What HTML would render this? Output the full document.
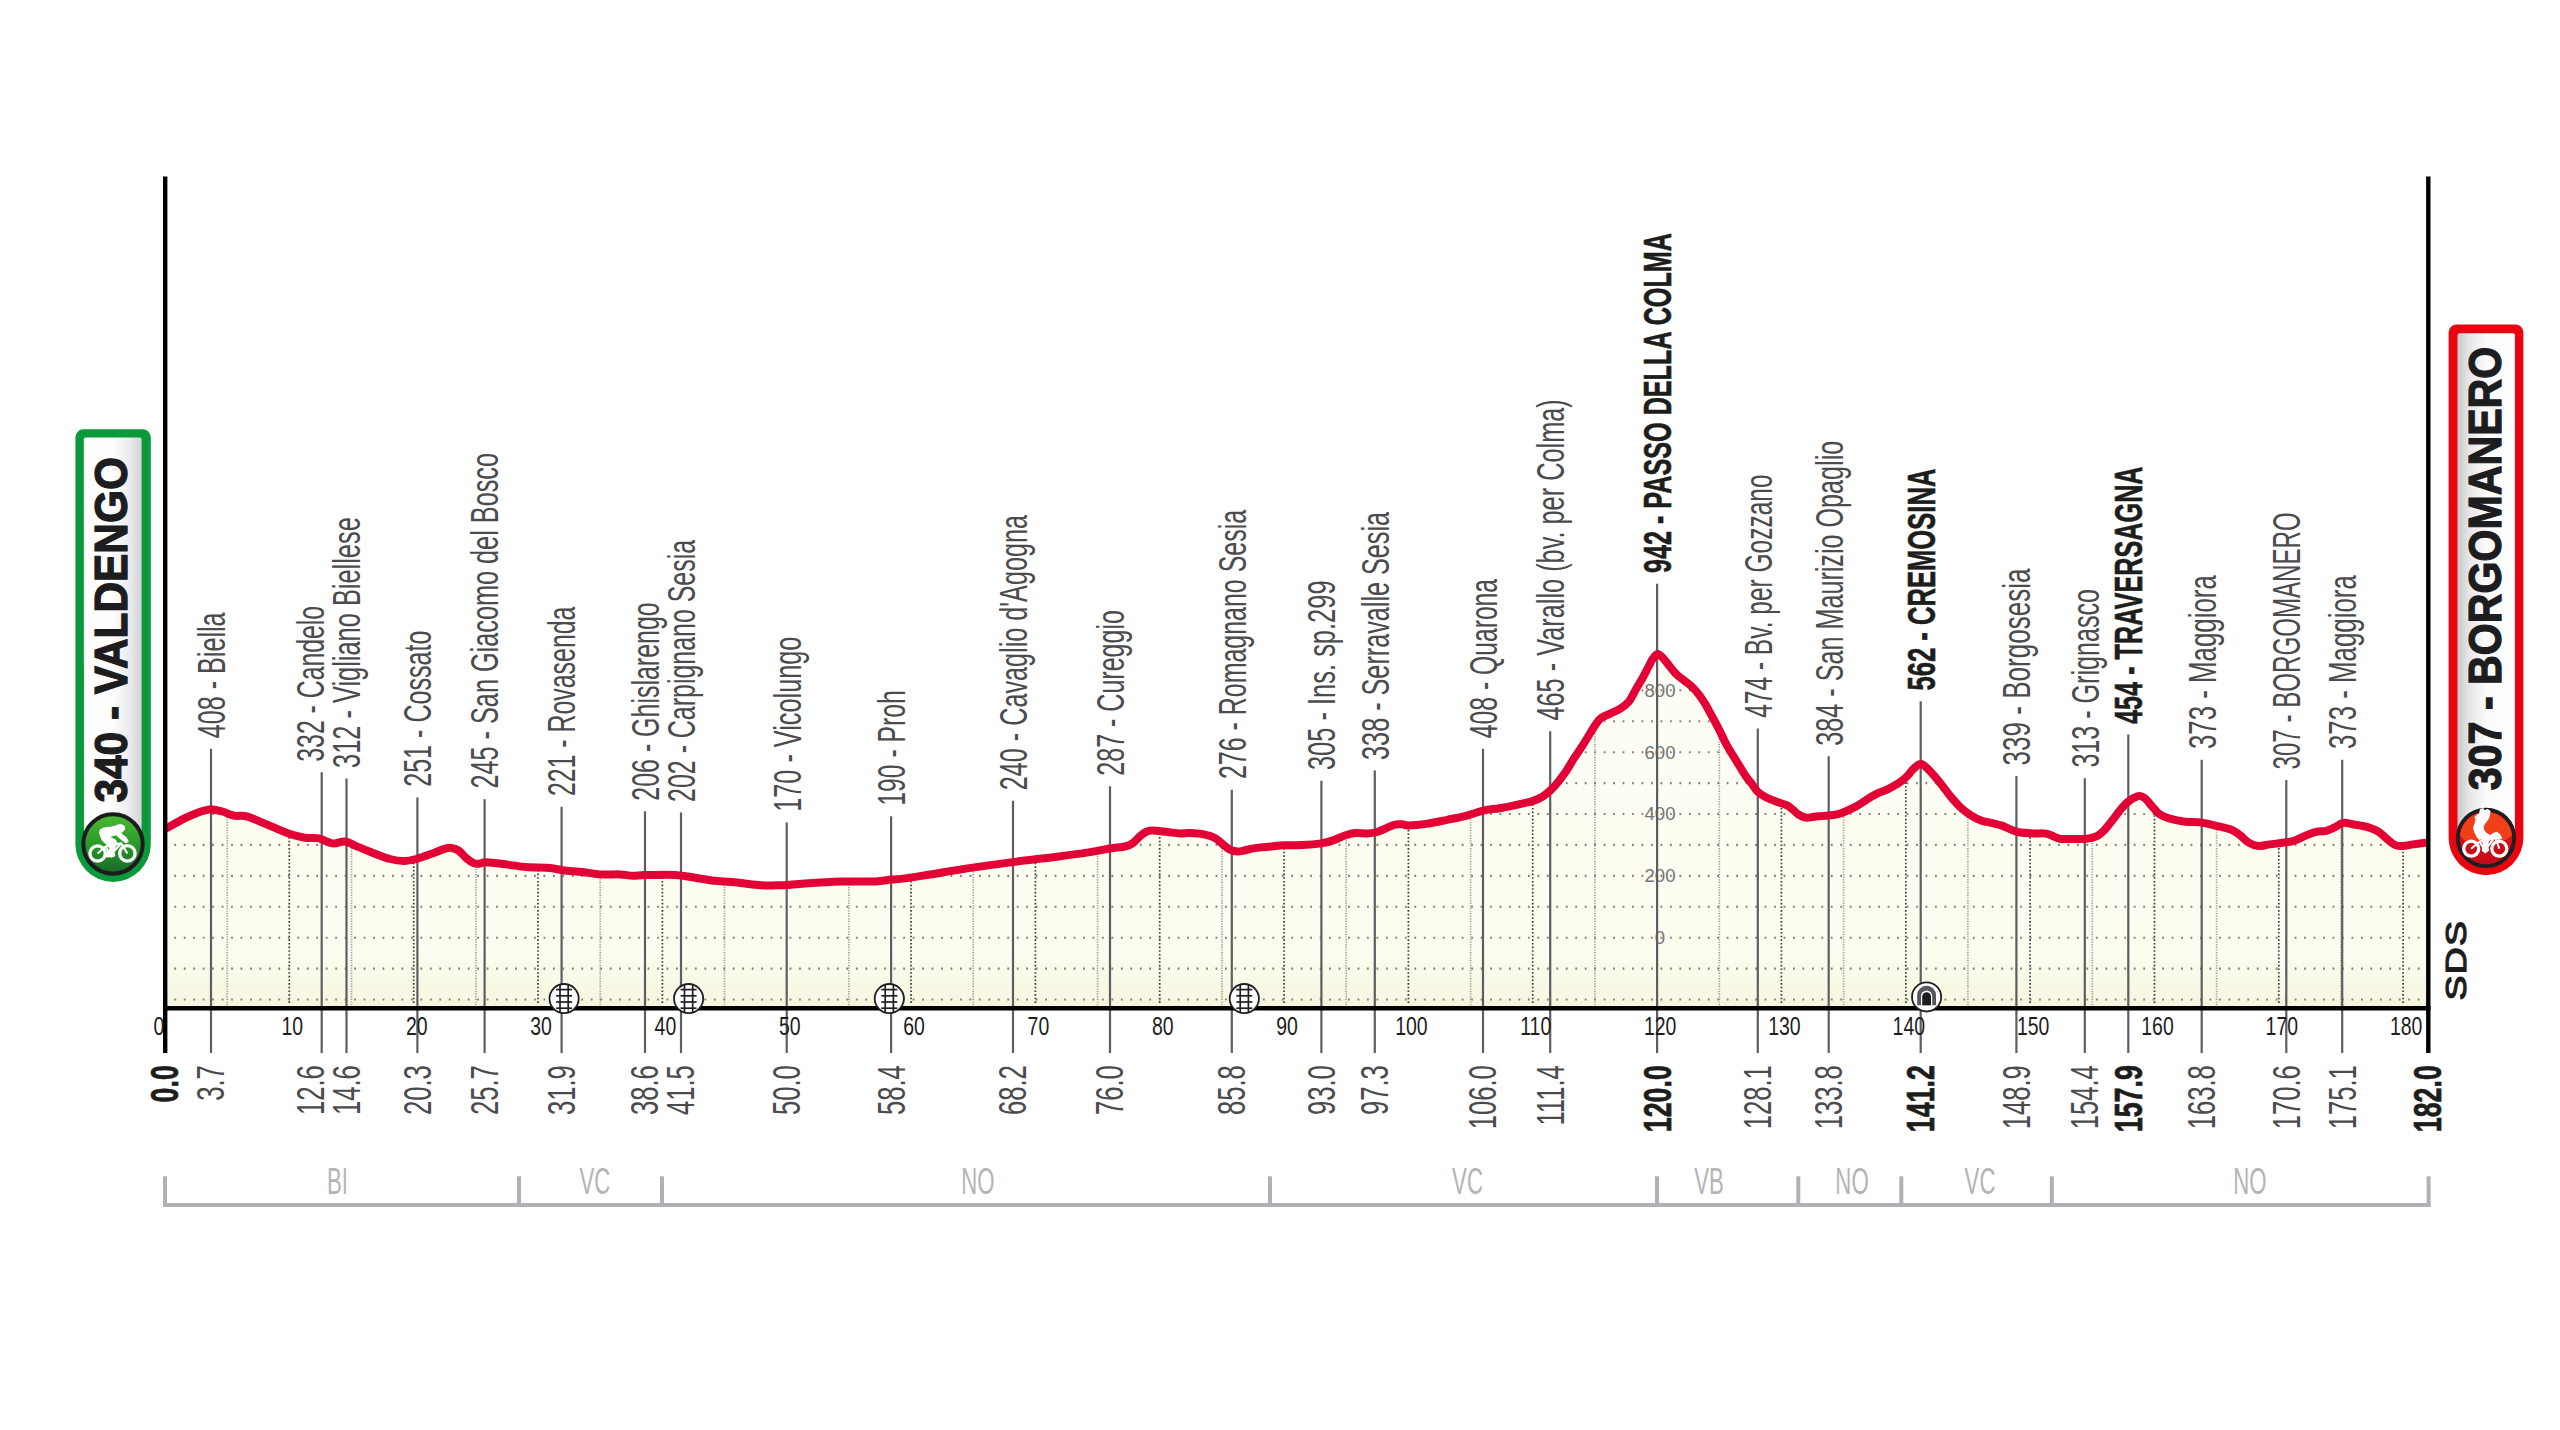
<!DOCTYPE html>
<html lang="it"><head><meta charset="utf-8"><title>Valdengo - Borgomanero</title>
<style>html,body{margin:0;padding:0;background:#fff;}svg{display:block;}text{font-family:"Liberation Sans",sans-serif;}</style></head><body>
<svg width="2560" height="1430" viewBox="0 0 2560 1430">
<defs>
<linearGradient id="gfill" x1="0" y1="0" x2="0" y2="1" gradientUnits="userSpaceOnUse"><stop offset="0" stop-color="#fdfdf3"/><stop offset="0.68" stop-color="#fcfcef"/><stop offset="0.7" stop-color="#f3f4d9"/><stop offset="1" stop-color="#f3f4d9"/></linearGradient>
<linearGradient id="garea" x1="0" y1="650" x2="0" y2="1008" gradientUnits="userSpaceOnUse"><stop offset="0" stop-color="#fdfdf5"/><stop offset="0.86" stop-color="#fcfcef"/><stop offset="1" stop-color="#f5f5de"/></linearGradient>
<linearGradient id="gpl" x1="83" y1="0" x2="142" y2="0" gradientUnits="userSpaceOnUse"><stop offset="0" stop-color="#ffffff"/><stop offset="0.5" stop-color="#fdfdfd"/><stop offset="0.8" stop-color="#ebebee"/><stop offset="1" stop-color="#d0d0d6"/></linearGradient>
<linearGradient id="gpr" x1="2457" y1="0" x2="2516" y2="0" gradientUnits="userSpaceOnUse"><stop offset="0" stop-color="#c4c5c9"/><stop offset="0.2" stop-color="#e6e6e9"/><stop offset="0.5" stop-color="#fbfbfc"/><stop offset="1" stop-color="#ffffff"/></linearGradient>
<linearGradient id="ggreen" x1="0" y1="0" x2="0" y2="1"><stop offset="0" stop-color="#4dbb33"/><stop offset="0.5" stop-color="#2a9a2c"/><stop offset="1" stop-color="#16692a"/></linearGradient>
<linearGradient id="gred" x1="0" y1="0" x2="0" y2="1"><stop offset="0" stop-color="#e2121a"/><stop offset="1" stop-color="#c40a1a"/></linearGradient>
<clipPath id="carea"><path d="M165.00,829.00 C168.33,827.18 179.58,820.81 185.00,818.10 C190.42,815.39 194.00,814.07 197.50,812.75 C201.00,811.43 203.50,810.76 206.00,810.20 C208.50,809.64 209.75,809.18 212.50,809.40 C215.25,809.62 218.96,810.47 222.50,811.50 C226.04,812.53 230.00,814.85 233.75,815.60 C237.50,816.35 241.46,815.37 245.00,816.00 C248.54,816.63 250.42,817.58 255.00,819.40 C259.58,821.22 266.67,824.47 272.50,826.90 C278.33,829.33 284.58,832.19 290.00,834.00 C295.42,835.81 300.21,837.02 305.00,837.75 C309.79,838.48 314.17,837.46 318.75,838.40 C323.33,839.34 328.12,842.88 332.50,843.40 C336.88,843.92 341.25,841.13 345.00,841.50 C348.75,841.87 350.42,843.73 355.00,845.60 C359.58,847.48 366.67,850.52 372.50,852.75 C378.33,854.98 384.79,857.62 390.00,859.00 C395.21,860.38 399.38,861.00 403.75,861.00 C408.12,861.00 411.46,860.25 416.25,859.00 C421.04,857.75 427.92,855.15 432.50,853.50 C437.08,851.85 440.62,850.03 443.75,849.10 C446.88,848.17 448.75,847.65 451.25,847.90 C453.75,848.15 456.25,848.90 458.75,850.60 C461.25,852.30 463.75,856.02 466.25,858.10 C468.75,860.18 471.46,862.18 473.75,863.10 C476.04,864.02 477.92,863.74 480.00,863.60 C482.08,863.46 481.67,862.08 486.25,862.25 C490.83,862.42 500.83,863.79 507.50,864.60 C514.17,865.41 519.17,866.53 526.25,867.10 C533.33,867.67 543.96,867.48 550.00,868.00 C556.04,868.52 557.08,869.57 562.50,870.25 C567.92,870.93 576.04,871.39 582.50,872.10 C588.96,872.81 595.00,874.12 601.25,874.50 C607.50,874.88 614.79,874.19 620.00,874.40 C625.21,874.61 628.33,875.63 632.50,875.75 C636.67,875.87 637.92,875.24 645.00,875.10 C652.08,874.96 666.67,874.46 675.00,874.90 C683.33,875.34 688.54,876.77 695.00,877.75 C701.46,878.73 707.50,880.02 713.75,880.75 C720.00,881.48 724.58,881.35 732.50,882.10 C740.42,882.85 753.96,884.72 761.25,885.25 C768.54,885.78 771.96,885.32 776.25,885.30 C780.54,885.27 782.21,885.42 787.00,885.10 C791.79,884.78 795.75,883.98 805.00,883.40 C814.25,882.82 830.83,881.93 842.50,881.60 C854.17,881.27 866.88,881.73 875.00,881.40 C883.12,881.07 886.25,880.10 891.25,879.60 C896.25,879.10 898.54,879.25 905.00,878.40 C911.46,877.55 919.58,876.17 930.00,874.50 C940.42,872.83 953.75,870.47 967.50,868.40 C981.25,866.33 997.92,864.00 1012.50,862.10 C1027.08,860.20 1042.08,858.67 1055.00,857.00 C1067.92,855.33 1080.83,853.52 1090.00,852.10 C1099.17,850.68 1104.17,849.43 1110.00,848.50 C1115.83,847.57 1121.25,847.35 1125.00,846.50 C1128.75,845.65 1130.00,845.11 1132.50,843.40 C1135.00,841.69 1137.71,838.19 1140.00,836.25 C1142.29,834.31 1144.17,832.69 1146.25,831.75 C1148.33,830.81 1148.96,830.54 1152.50,830.60 C1156.04,830.66 1162.92,831.63 1167.50,832.10 C1172.08,832.57 1176.25,833.23 1180.00,833.40 C1183.75,833.57 1185.83,832.90 1190.00,833.10 C1194.17,833.30 1200.83,833.77 1205.00,834.60 C1209.17,835.43 1212.08,836.53 1215.00,838.10 C1217.92,839.67 1220.00,842.08 1222.50,844.00 C1225.00,845.92 1227.50,848.35 1230.00,849.60 C1232.50,850.85 1235.00,851.39 1237.50,851.50 C1240.00,851.61 1242.08,850.82 1245.00,850.25 C1247.92,849.68 1250.62,848.73 1255.00,848.10 C1259.38,847.48 1266.46,846.98 1271.25,846.50 C1276.04,846.02 1278.54,845.48 1283.75,845.25 C1288.96,845.02 1296.25,845.41 1302.50,845.10 C1308.75,844.79 1316.25,844.15 1321.25,843.40 C1326.25,842.65 1328.54,841.92 1332.50,840.60 C1336.46,839.28 1341.25,836.75 1345.00,835.50 C1348.75,834.25 1351.25,833.45 1355.00,833.10 C1358.75,832.75 1363.96,833.54 1367.50,833.40 C1371.04,833.26 1373.33,833.02 1376.25,832.25 C1379.17,831.48 1381.88,830.02 1385.00,828.75 C1388.12,827.48 1392.17,825.34 1395.00,824.60 C1397.83,823.86 1399.77,824.15 1402.00,824.30 C1404.23,824.45 1404.37,825.57 1408.40,825.50 C1412.43,825.43 1419.73,824.85 1426.20,823.90 C1432.67,822.95 1440.73,821.10 1447.20,819.80 C1453.67,818.50 1458.97,817.63 1465.00,816.10 C1471.03,814.57 1477.62,811.92 1483.40,810.60 C1489.18,809.28 1494.37,809.12 1499.70,808.20 C1505.03,807.28 1509.82,806.32 1515.40,805.10 C1520.98,803.88 1528.65,802.33 1533.20,800.90 C1537.75,799.47 1539.82,798.28 1542.70,796.50 C1545.58,794.72 1548.07,792.45 1550.50,790.20 C1552.93,787.95 1554.77,786.07 1557.30,783.00 C1559.83,779.93 1562.90,775.93 1565.70,771.80 C1568.50,767.67 1571.30,762.57 1574.10,758.20 C1576.90,753.83 1579.70,749.97 1582.50,745.60 C1585.30,741.23 1588.62,735.67 1590.90,732.00 C1593.18,728.33 1594.45,725.97 1596.20,723.60 C1597.95,721.23 1599.13,719.43 1601.40,717.80 C1603.67,716.17 1606.65,715.33 1609.80,713.80 C1612.95,712.27 1617.15,710.60 1620.30,708.60 C1623.45,706.60 1626.05,705.12 1628.70,701.80 C1631.35,698.48 1633.82,692.80 1636.20,688.70 C1638.58,684.60 1640.95,680.87 1643.00,677.20 C1645.05,673.53 1646.93,669.67 1648.50,666.70 C1650.07,663.73 1650.87,661.53 1652.40,659.40 C1653.93,657.27 1655.73,653.90 1657.70,653.90 C1659.67,653.90 1662.15,657.27 1664.20,659.40 C1666.25,661.53 1667.98,664.25 1670.00,666.70 C1672.02,669.15 1673.98,671.82 1676.30,674.10 C1678.62,676.38 1681.40,678.40 1683.90,680.40 C1686.40,682.40 1688.82,683.75 1691.30,686.10 C1693.78,688.45 1696.53,691.62 1698.80,694.50 C1701.07,697.38 1702.92,700.17 1704.90,703.40 C1706.88,706.63 1708.78,710.40 1710.70,713.90 C1712.62,717.40 1714.57,720.90 1716.40,724.40 C1718.23,727.90 1719.95,731.40 1721.70,734.90 C1723.45,738.40 1724.98,741.90 1726.90,745.40 C1728.82,748.90 1731.07,752.40 1733.20,755.90 C1735.33,759.40 1737.52,762.90 1739.70,766.40 C1741.88,769.90 1744.33,774.07 1746.30,776.90 C1748.27,779.73 1749.58,780.90 1751.50,783.40 C1753.42,785.90 1755.27,789.52 1757.80,791.90 C1760.33,794.28 1763.47,796.03 1766.70,797.70 C1769.93,799.37 1773.88,800.65 1777.20,801.90 C1780.52,803.15 1783.98,803.90 1786.60,805.20 C1789.22,806.50 1790.80,808.07 1792.90,809.70 C1795.00,811.33 1796.92,813.65 1799.20,815.00 C1801.48,816.35 1803.80,817.55 1806.60,817.80 C1809.40,818.05 1812.33,816.88 1816.00,816.50 C1819.67,816.12 1825.10,815.85 1828.60,815.50 C1832.10,815.15 1834.20,815.07 1837.00,814.40 C1839.80,813.73 1842.25,812.80 1845.40,811.50 C1848.55,810.20 1852.40,808.55 1855.90,806.60 C1859.40,804.65 1862.90,801.95 1866.40,799.80 C1869.90,797.65 1873.40,795.45 1876.90,793.70 C1880.40,791.95 1883.92,790.97 1887.40,789.30 C1890.88,787.63 1894.67,785.72 1897.80,783.70 C1900.93,781.68 1903.57,779.68 1906.20,777.20 C1908.83,774.72 1911.15,770.98 1913.60,768.80 C1916.05,766.62 1918.28,763.83 1920.90,764.10 C1923.52,764.37 1926.15,767.33 1929.30,770.40 C1932.45,773.47 1936.30,778.22 1939.80,782.50 C1943.30,786.78 1946.80,791.92 1950.30,796.10 C1953.80,800.28 1957.43,804.43 1960.80,807.60 C1964.17,810.77 1967.13,812.95 1970.50,815.10 C1973.87,817.25 1977.50,819.20 1981.00,820.50 C1984.50,821.80 1988.00,822.05 1991.50,822.90 C1995.00,823.75 1998.85,824.52 2002.00,825.60 C2005.15,826.68 2007.62,828.30 2010.40,829.40 C2013.18,830.50 2014.87,831.53 2018.70,832.20 C2022.53,832.87 2028.85,833.17 2033.40,833.40 C2037.95,833.63 2042.50,833.03 2046.00,833.60 C2049.50,834.17 2051.95,835.92 2054.40,836.80 C2056.85,837.68 2057.20,838.53 2060.70,838.90 C2064.20,839.27 2071.20,839.00 2075.40,839.00 C2079.60,839.00 2082.40,839.35 2085.90,838.90 C2089.40,838.45 2093.43,837.65 2096.40,836.30 C2099.37,834.95 2101.25,833.20 2103.70,830.80 C2106.15,828.40 2108.48,825.18 2111.10,821.90 C2113.72,818.62 2116.62,814.42 2119.40,811.10 C2122.18,807.78 2124.65,804.48 2127.80,802.00 C2130.95,799.52 2135.50,796.87 2138.30,796.20 C2141.10,795.53 2142.32,796.33 2144.60,798.00 C2146.88,799.67 2149.55,803.53 2152.00,806.20 C2154.45,808.87 2156.33,811.92 2159.30,814.00 C2162.27,816.08 2165.43,817.40 2169.80,818.70 C2174.17,820.00 2180.38,821.18 2185.50,821.80 C2190.62,822.42 2195.38,821.73 2200.50,822.40 C2205.62,823.07 2210.95,824.53 2216.20,825.80 C2221.45,827.07 2227.97,828.38 2232.00,830.00 C2236.03,831.62 2237.62,833.40 2240.40,835.50 C2243.18,837.60 2245.73,840.85 2248.70,842.60 C2251.67,844.35 2254.70,845.70 2258.20,846.00 C2261.70,846.30 2265.07,845.02 2269.70,844.40 C2274.33,843.78 2281.80,842.95 2286.00,842.30 C2290.20,841.65 2291.67,841.60 2294.90,840.50 C2298.13,839.40 2301.90,837.13 2305.40,835.70 C2308.90,834.27 2312.40,832.72 2315.90,831.90 C2319.40,831.08 2323.25,831.57 2326.40,830.80 C2329.55,830.03 2332.00,828.62 2334.80,827.30 C2337.60,825.98 2340.07,823.37 2343.20,822.90 C2346.33,822.43 2349.42,823.77 2353.60,824.50 C2357.78,825.23 2364.10,826.07 2368.30,827.30 C2372.50,828.53 2375.65,829.92 2378.80,831.90 C2381.95,833.88 2384.40,836.98 2387.20,839.20 C2390.00,841.42 2392.98,844.07 2395.60,845.20 C2398.22,846.33 2399.93,846.13 2402.90,846.00 C2405.87,845.87 2409.22,845.00 2413.40,844.40 C2417.58,843.80 2425.57,842.73 2428.00,842.40 L2428,1008.3 L165,1008.3 Z"/></clipPath>
</defs>
<rect width="2560" height="1430" fill="#ffffff"/>
<path d="M165.00,829.00 C168.33,827.18 179.58,820.81 185.00,818.10 C190.42,815.39 194.00,814.07 197.50,812.75 C201.00,811.43 203.50,810.76 206.00,810.20 C208.50,809.64 209.75,809.18 212.50,809.40 C215.25,809.62 218.96,810.47 222.50,811.50 C226.04,812.53 230.00,814.85 233.75,815.60 C237.50,816.35 241.46,815.37 245.00,816.00 C248.54,816.63 250.42,817.58 255.00,819.40 C259.58,821.22 266.67,824.47 272.50,826.90 C278.33,829.33 284.58,832.19 290.00,834.00 C295.42,835.81 300.21,837.02 305.00,837.75 C309.79,838.48 314.17,837.46 318.75,838.40 C323.33,839.34 328.12,842.88 332.50,843.40 C336.88,843.92 341.25,841.13 345.00,841.50 C348.75,841.87 350.42,843.73 355.00,845.60 C359.58,847.48 366.67,850.52 372.50,852.75 C378.33,854.98 384.79,857.62 390.00,859.00 C395.21,860.38 399.38,861.00 403.75,861.00 C408.12,861.00 411.46,860.25 416.25,859.00 C421.04,857.75 427.92,855.15 432.50,853.50 C437.08,851.85 440.62,850.03 443.75,849.10 C446.88,848.17 448.75,847.65 451.25,847.90 C453.75,848.15 456.25,848.90 458.75,850.60 C461.25,852.30 463.75,856.02 466.25,858.10 C468.75,860.18 471.46,862.18 473.75,863.10 C476.04,864.02 477.92,863.74 480.00,863.60 C482.08,863.46 481.67,862.08 486.25,862.25 C490.83,862.42 500.83,863.79 507.50,864.60 C514.17,865.41 519.17,866.53 526.25,867.10 C533.33,867.67 543.96,867.48 550.00,868.00 C556.04,868.52 557.08,869.57 562.50,870.25 C567.92,870.93 576.04,871.39 582.50,872.10 C588.96,872.81 595.00,874.12 601.25,874.50 C607.50,874.88 614.79,874.19 620.00,874.40 C625.21,874.61 628.33,875.63 632.50,875.75 C636.67,875.87 637.92,875.24 645.00,875.10 C652.08,874.96 666.67,874.46 675.00,874.90 C683.33,875.34 688.54,876.77 695.00,877.75 C701.46,878.73 707.50,880.02 713.75,880.75 C720.00,881.48 724.58,881.35 732.50,882.10 C740.42,882.85 753.96,884.72 761.25,885.25 C768.54,885.78 771.96,885.32 776.25,885.30 C780.54,885.27 782.21,885.42 787.00,885.10 C791.79,884.78 795.75,883.98 805.00,883.40 C814.25,882.82 830.83,881.93 842.50,881.60 C854.17,881.27 866.88,881.73 875.00,881.40 C883.12,881.07 886.25,880.10 891.25,879.60 C896.25,879.10 898.54,879.25 905.00,878.40 C911.46,877.55 919.58,876.17 930.00,874.50 C940.42,872.83 953.75,870.47 967.50,868.40 C981.25,866.33 997.92,864.00 1012.50,862.10 C1027.08,860.20 1042.08,858.67 1055.00,857.00 C1067.92,855.33 1080.83,853.52 1090.00,852.10 C1099.17,850.68 1104.17,849.43 1110.00,848.50 C1115.83,847.57 1121.25,847.35 1125.00,846.50 C1128.75,845.65 1130.00,845.11 1132.50,843.40 C1135.00,841.69 1137.71,838.19 1140.00,836.25 C1142.29,834.31 1144.17,832.69 1146.25,831.75 C1148.33,830.81 1148.96,830.54 1152.50,830.60 C1156.04,830.66 1162.92,831.63 1167.50,832.10 C1172.08,832.57 1176.25,833.23 1180.00,833.40 C1183.75,833.57 1185.83,832.90 1190.00,833.10 C1194.17,833.30 1200.83,833.77 1205.00,834.60 C1209.17,835.43 1212.08,836.53 1215.00,838.10 C1217.92,839.67 1220.00,842.08 1222.50,844.00 C1225.00,845.92 1227.50,848.35 1230.00,849.60 C1232.50,850.85 1235.00,851.39 1237.50,851.50 C1240.00,851.61 1242.08,850.82 1245.00,850.25 C1247.92,849.68 1250.62,848.73 1255.00,848.10 C1259.38,847.48 1266.46,846.98 1271.25,846.50 C1276.04,846.02 1278.54,845.48 1283.75,845.25 C1288.96,845.02 1296.25,845.41 1302.50,845.10 C1308.75,844.79 1316.25,844.15 1321.25,843.40 C1326.25,842.65 1328.54,841.92 1332.50,840.60 C1336.46,839.28 1341.25,836.75 1345.00,835.50 C1348.75,834.25 1351.25,833.45 1355.00,833.10 C1358.75,832.75 1363.96,833.54 1367.50,833.40 C1371.04,833.26 1373.33,833.02 1376.25,832.25 C1379.17,831.48 1381.88,830.02 1385.00,828.75 C1388.12,827.48 1392.17,825.34 1395.00,824.60 C1397.83,823.86 1399.77,824.15 1402.00,824.30 C1404.23,824.45 1404.37,825.57 1408.40,825.50 C1412.43,825.43 1419.73,824.85 1426.20,823.90 C1432.67,822.95 1440.73,821.10 1447.20,819.80 C1453.67,818.50 1458.97,817.63 1465.00,816.10 C1471.03,814.57 1477.62,811.92 1483.40,810.60 C1489.18,809.28 1494.37,809.12 1499.70,808.20 C1505.03,807.28 1509.82,806.32 1515.40,805.10 C1520.98,803.88 1528.65,802.33 1533.20,800.90 C1537.75,799.47 1539.82,798.28 1542.70,796.50 C1545.58,794.72 1548.07,792.45 1550.50,790.20 C1552.93,787.95 1554.77,786.07 1557.30,783.00 C1559.83,779.93 1562.90,775.93 1565.70,771.80 C1568.50,767.67 1571.30,762.57 1574.10,758.20 C1576.90,753.83 1579.70,749.97 1582.50,745.60 C1585.30,741.23 1588.62,735.67 1590.90,732.00 C1593.18,728.33 1594.45,725.97 1596.20,723.60 C1597.95,721.23 1599.13,719.43 1601.40,717.80 C1603.67,716.17 1606.65,715.33 1609.80,713.80 C1612.95,712.27 1617.15,710.60 1620.30,708.60 C1623.45,706.60 1626.05,705.12 1628.70,701.80 C1631.35,698.48 1633.82,692.80 1636.20,688.70 C1638.58,684.60 1640.95,680.87 1643.00,677.20 C1645.05,673.53 1646.93,669.67 1648.50,666.70 C1650.07,663.73 1650.87,661.53 1652.40,659.40 C1653.93,657.27 1655.73,653.90 1657.70,653.90 C1659.67,653.90 1662.15,657.27 1664.20,659.40 C1666.25,661.53 1667.98,664.25 1670.00,666.70 C1672.02,669.15 1673.98,671.82 1676.30,674.10 C1678.62,676.38 1681.40,678.40 1683.90,680.40 C1686.40,682.40 1688.82,683.75 1691.30,686.10 C1693.78,688.45 1696.53,691.62 1698.80,694.50 C1701.07,697.38 1702.92,700.17 1704.90,703.40 C1706.88,706.63 1708.78,710.40 1710.70,713.90 C1712.62,717.40 1714.57,720.90 1716.40,724.40 C1718.23,727.90 1719.95,731.40 1721.70,734.90 C1723.45,738.40 1724.98,741.90 1726.90,745.40 C1728.82,748.90 1731.07,752.40 1733.20,755.90 C1735.33,759.40 1737.52,762.90 1739.70,766.40 C1741.88,769.90 1744.33,774.07 1746.30,776.90 C1748.27,779.73 1749.58,780.90 1751.50,783.40 C1753.42,785.90 1755.27,789.52 1757.80,791.90 C1760.33,794.28 1763.47,796.03 1766.70,797.70 C1769.93,799.37 1773.88,800.65 1777.20,801.90 C1780.52,803.15 1783.98,803.90 1786.60,805.20 C1789.22,806.50 1790.80,808.07 1792.90,809.70 C1795.00,811.33 1796.92,813.65 1799.20,815.00 C1801.48,816.35 1803.80,817.55 1806.60,817.80 C1809.40,818.05 1812.33,816.88 1816.00,816.50 C1819.67,816.12 1825.10,815.85 1828.60,815.50 C1832.10,815.15 1834.20,815.07 1837.00,814.40 C1839.80,813.73 1842.25,812.80 1845.40,811.50 C1848.55,810.20 1852.40,808.55 1855.90,806.60 C1859.40,804.65 1862.90,801.95 1866.40,799.80 C1869.90,797.65 1873.40,795.45 1876.90,793.70 C1880.40,791.95 1883.92,790.97 1887.40,789.30 C1890.88,787.63 1894.67,785.72 1897.80,783.70 C1900.93,781.68 1903.57,779.68 1906.20,777.20 C1908.83,774.72 1911.15,770.98 1913.60,768.80 C1916.05,766.62 1918.28,763.83 1920.90,764.10 C1923.52,764.37 1926.15,767.33 1929.30,770.40 C1932.45,773.47 1936.30,778.22 1939.80,782.50 C1943.30,786.78 1946.80,791.92 1950.30,796.10 C1953.80,800.28 1957.43,804.43 1960.80,807.60 C1964.17,810.77 1967.13,812.95 1970.50,815.10 C1973.87,817.25 1977.50,819.20 1981.00,820.50 C1984.50,821.80 1988.00,822.05 1991.50,822.90 C1995.00,823.75 1998.85,824.52 2002.00,825.60 C2005.15,826.68 2007.62,828.30 2010.40,829.40 C2013.18,830.50 2014.87,831.53 2018.70,832.20 C2022.53,832.87 2028.85,833.17 2033.40,833.40 C2037.95,833.63 2042.50,833.03 2046.00,833.60 C2049.50,834.17 2051.95,835.92 2054.40,836.80 C2056.85,837.68 2057.20,838.53 2060.70,838.90 C2064.20,839.27 2071.20,839.00 2075.40,839.00 C2079.60,839.00 2082.40,839.35 2085.90,838.90 C2089.40,838.45 2093.43,837.65 2096.40,836.30 C2099.37,834.95 2101.25,833.20 2103.70,830.80 C2106.15,828.40 2108.48,825.18 2111.10,821.90 C2113.72,818.62 2116.62,814.42 2119.40,811.10 C2122.18,807.78 2124.65,804.48 2127.80,802.00 C2130.95,799.52 2135.50,796.87 2138.30,796.20 C2141.10,795.53 2142.32,796.33 2144.60,798.00 C2146.88,799.67 2149.55,803.53 2152.00,806.20 C2154.45,808.87 2156.33,811.92 2159.30,814.00 C2162.27,816.08 2165.43,817.40 2169.80,818.70 C2174.17,820.00 2180.38,821.18 2185.50,821.80 C2190.62,822.42 2195.38,821.73 2200.50,822.40 C2205.62,823.07 2210.95,824.53 2216.20,825.80 C2221.45,827.07 2227.97,828.38 2232.00,830.00 C2236.03,831.62 2237.62,833.40 2240.40,835.50 C2243.18,837.60 2245.73,840.85 2248.70,842.60 C2251.67,844.35 2254.70,845.70 2258.20,846.00 C2261.70,846.30 2265.07,845.02 2269.70,844.40 C2274.33,843.78 2281.80,842.95 2286.00,842.30 C2290.20,841.65 2291.67,841.60 2294.90,840.50 C2298.13,839.40 2301.90,837.13 2305.40,835.70 C2308.90,834.27 2312.40,832.72 2315.90,831.90 C2319.40,831.08 2323.25,831.57 2326.40,830.80 C2329.55,830.03 2332.00,828.62 2334.80,827.30 C2337.60,825.98 2340.07,823.37 2343.20,822.90 C2346.33,822.43 2349.42,823.77 2353.60,824.50 C2357.78,825.23 2364.10,826.07 2368.30,827.30 C2372.50,828.53 2375.65,829.92 2378.80,831.90 C2381.95,833.88 2384.40,836.98 2387.20,839.20 C2390.00,841.42 2392.98,844.07 2395.60,845.20 C2398.22,846.33 2399.93,846.13 2402.90,846.00 C2405.87,845.87 2409.22,845.00 2413.40,844.40 C2417.58,843.80 2425.57,842.73 2428.00,842.40 L2428,1008.3 L165,1008.3 Z" fill="url(#garea)"/>
<g clip-path="url(#carea)">
<line x1="227.2" y1="640" x2="227.2" y2="1005" stroke="#9c9c98" stroke-width="1.7" stroke-dasharray="1.2 1.4"/>
<line x1="289.3" y1="640" x2="289.3" y2="1005" stroke="#3a3a3a" stroke-width="1.7" stroke-dasharray="1.6 2.05"/>
<line x1="351.5" y1="640" x2="351.5" y2="1005" stroke="#9c9c98" stroke-width="1.7" stroke-dasharray="1.2 1.4"/>
<line x1="413.7" y1="640" x2="413.7" y2="1005" stroke="#3a3a3a" stroke-width="1.7" stroke-dasharray="1.6 2.05"/>
<line x1="475.9" y1="640" x2="475.9" y2="1005" stroke="#9c9c98" stroke-width="1.7" stroke-dasharray="1.2 1.4"/>
<line x1="538.0" y1="640" x2="538.0" y2="1005" stroke="#3a3a3a" stroke-width="1.7" stroke-dasharray="1.6 2.05"/>
<line x1="600.2" y1="640" x2="600.2" y2="1005" stroke="#9c9c98" stroke-width="1.7" stroke-dasharray="1.2 1.4"/>
<line x1="662.4" y1="640" x2="662.4" y2="1005" stroke="#3a3a3a" stroke-width="1.7" stroke-dasharray="1.6 2.05"/>
<line x1="724.5" y1="640" x2="724.5" y2="1005" stroke="#9c9c98" stroke-width="1.7" stroke-dasharray="1.2 1.4"/>
<line x1="848.9" y1="640" x2="848.9" y2="1005" stroke="#9c9c98" stroke-width="1.7" stroke-dasharray="1.2 1.4"/>
<line x1="911.0" y1="640" x2="911.0" y2="1005" stroke="#3a3a3a" stroke-width="1.7" stroke-dasharray="1.6 2.05"/>
<line x1="973.2" y1="640" x2="973.2" y2="1005" stroke="#9c9c98" stroke-width="1.7" stroke-dasharray="1.2 1.4"/>
<line x1="1035.4" y1="640" x2="1035.4" y2="1005" stroke="#3a3a3a" stroke-width="1.7" stroke-dasharray="1.6 2.05"/>
<line x1="1097.6" y1="640" x2="1097.6" y2="1005" stroke="#9c9c98" stroke-width="1.7" stroke-dasharray="1.2 1.4"/>
<line x1="1159.7" y1="640" x2="1159.7" y2="1005" stroke="#3a3a3a" stroke-width="1.7" stroke-dasharray="1.6 2.05"/>
<line x1="1221.9" y1="640" x2="1221.9" y2="1005" stroke="#9c9c98" stroke-width="1.7" stroke-dasharray="1.2 1.4"/>
<line x1="1284.1" y1="640" x2="1284.1" y2="1005" stroke="#3a3a3a" stroke-width="1.7" stroke-dasharray="1.6 2.05"/>
<line x1="1346.2" y1="640" x2="1346.2" y2="1005" stroke="#9c9c98" stroke-width="1.7" stroke-dasharray="1.2 1.4"/>
<line x1="1408.4" y1="640" x2="1408.4" y2="1005" stroke="#3a3a3a" stroke-width="1.7" stroke-dasharray="1.6 2.05"/>
<line x1="1470.6" y1="640" x2="1470.6" y2="1005" stroke="#9c9c98" stroke-width="1.7" stroke-dasharray="1.2 1.4"/>
<line x1="1532.7" y1="640" x2="1532.7" y2="1005" stroke="#3a3a3a" stroke-width="1.7" stroke-dasharray="1.6 2.05"/>
<line x1="1594.9" y1="640" x2="1594.9" y2="1005" stroke="#9c9c98" stroke-width="1.7" stroke-dasharray="1.2 1.4"/>
<line x1="1719.3" y1="640" x2="1719.3" y2="1005" stroke="#9c9c98" stroke-width="1.7" stroke-dasharray="1.2 1.4"/>
<line x1="1781.4" y1="640" x2="1781.4" y2="1005" stroke="#3a3a3a" stroke-width="1.7" stroke-dasharray="1.6 2.05"/>
<line x1="1843.6" y1="640" x2="1843.6" y2="1005" stroke="#9c9c98" stroke-width="1.7" stroke-dasharray="1.2 1.4"/>
<line x1="1905.8" y1="640" x2="1905.8" y2="1005" stroke="#3a3a3a" stroke-width="1.7" stroke-dasharray="1.6 2.05"/>
<line x1="1967.9" y1="640" x2="1967.9" y2="1005" stroke="#9c9c98" stroke-width="1.7" stroke-dasharray="1.2 1.4"/>
<line x1="2030.1" y1="640" x2="2030.1" y2="1005" stroke="#3a3a3a" stroke-width="1.7" stroke-dasharray="1.6 2.05"/>
<line x1="2092.3" y1="640" x2="2092.3" y2="1005" stroke="#9c9c98" stroke-width="1.7" stroke-dasharray="1.2 1.4"/>
<line x1="2154.5" y1="640" x2="2154.5" y2="1005" stroke="#3a3a3a" stroke-width="1.7" stroke-dasharray="1.6 2.05"/>
<line x1="2216.6" y1="640" x2="2216.6" y2="1005" stroke="#9c9c98" stroke-width="1.7" stroke-dasharray="1.2 1.4"/>
<line x1="2278.8" y1="640" x2="2278.8" y2="1005" stroke="#3a3a3a" stroke-width="1.7" stroke-dasharray="1.6 2.05"/>
<line x1="2341.0" y1="640" x2="2341.0" y2="1005" stroke="#9c9c98" stroke-width="1.7" stroke-dasharray="1.2 1.4"/>
<line x1="2403.1" y1="640" x2="2403.1" y2="1005" stroke="#3a3a3a" stroke-width="1.7" stroke-dasharray="1.6 2.05"/>
<line x1="174.3" y1="999.5" x2="2424" y2="999.5" stroke="#80807c" stroke-width="2.1" stroke-dasharray="1.8 7.666"/>
<line x1="174.3" y1="968.6" x2="2424" y2="968.6" stroke="#80807c" stroke-width="2.1" stroke-dasharray="1.8 7.666"/>
<line x1="174.3" y1="937.7" x2="2424" y2="937.7" stroke="#80807c" stroke-width="2.1" stroke-dasharray="1.8 7.666"/>
<line x1="174.3" y1="906.8" x2="2424" y2="906.8" stroke="#80807c" stroke-width="2.1" stroke-dasharray="1.8 7.666"/>
<line x1="174.3" y1="875.9" x2="2424" y2="875.9" stroke="#80807c" stroke-width="2.1" stroke-dasharray="1.8 7.666"/>
<line x1="174.3" y1="844.9" x2="2424" y2="844.9" stroke="#80807c" stroke-width="2.1" stroke-dasharray="1.8 7.666"/>
<line x1="174.3" y1="814.0" x2="2424" y2="814.0" stroke="#80807c" stroke-width="2.1" stroke-dasharray="1.8 7.666"/>
<line x1="174.3" y1="783.1" x2="2424" y2="783.1" stroke="#80807c" stroke-width="2.1" stroke-dasharray="1.8 7.666"/>
<line x1="174.3" y1="752.2" x2="2424" y2="752.2" stroke="#80807c" stroke-width="2.1" stroke-dasharray="1.8 7.666"/>
<line x1="174.3" y1="721.3" x2="2424" y2="721.3" stroke="#80807c" stroke-width="2.1" stroke-dasharray="1.8 7.666"/>
<line x1="174.3" y1="690.3" x2="2424" y2="690.3" stroke="#80807c" stroke-width="2.1" stroke-dasharray="1.8 7.666"/>
<line x1="174.3" y1="659.4" x2="2424" y2="659.4" stroke="#80807c" stroke-width="2.1" stroke-dasharray="1.8 7.666"/>
</g>
<text x="1660" y="944.1" font-size="18.6" fill="#747474" text-anchor="middle">0</text>
<text x="1660" y="882.3" font-size="18.6" fill="#747474" text-anchor="middle">200</text>
<text x="1660" y="820.4" font-size="18.6" fill="#747474" text-anchor="middle">400</text>
<text x="1660" y="758.6" font-size="18.6" fill="#747474" text-anchor="middle">600</text>
<text x="1660" y="696.7" font-size="18.6" fill="#747474" text-anchor="middle">800</text>
<g stroke="#5d5d63" stroke-width="2.2">
<line x1="211.0" y1="748.8" x2="211.0" y2="1053"/>
<line x1="321.7" y1="772.3" x2="321.7" y2="1053"/>
<line x1="346.5" y1="778.5" x2="346.5" y2="1053"/>
<line x1="417.4" y1="797.4" x2="417.4" y2="1053"/>
<line x1="484.6" y1="799.2" x2="484.6" y2="1053"/>
<line x1="561.6" y1="806.7" x2="561.6" y2="1053"/>
<line x1="645.0" y1="811.3" x2="645.0" y2="1053"/>
<line x1="681.0" y1="812.5" x2="681.0" y2="1053"/>
<line x1="786.7" y1="822.4" x2="786.7" y2="1053"/>
<line x1="891.1" y1="816.3" x2="891.1" y2="1053"/>
<line x1="1013.0" y1="800.8" x2="1013.0" y2="1053"/>
<line x1="1110.0" y1="786.3" x2="1110.0" y2="1053"/>
<line x1="1231.8" y1="789.7" x2="1231.8" y2="1053"/>
<line x1="1321.4" y1="780.7" x2="1321.4" y2="1053"/>
<line x1="1374.8" y1="770.5" x2="1374.8" y2="1053"/>
<line x1="1483.0" y1="748.8" x2="1483.0" y2="1053"/>
<line x1="1550.2" y1="731.2" x2="1550.2" y2="1053"/>
<line x1="1657.1" y1="583.7" x2="1657.1" y2="1053"/>
<line x1="1757.8" y1="728.4" x2="1757.8" y2="1053"/>
<line x1="1828.7" y1="756.3" x2="1828.7" y2="1053"/>
<line x1="1920.7" y1="701.2" x2="1920.7" y2="1053"/>
<line x1="2016.4" y1="776.1" x2="2016.4" y2="1053"/>
<line x1="2084.8" y1="778.2" x2="2084.8" y2="1053"/>
<line x1="2128.3" y1="734.6" x2="2128.3" y2="1053"/>
<line x1="2201.7" y1="759.7" x2="2201.7" y2="1053"/>
<line x1="2286.3" y1="780.1" x2="2286.3" y2="1053"/>
<line x1="2342.2" y1="759.7" x2="2342.2" y2="1053"/>
</g>
<path d="M165.00,829.00 C168.33,827.18 179.58,820.81 185.00,818.10 C190.42,815.39 194.00,814.07 197.50,812.75 C201.00,811.43 203.50,810.76 206.00,810.20 C208.50,809.64 209.75,809.18 212.50,809.40 C215.25,809.62 218.96,810.47 222.50,811.50 C226.04,812.53 230.00,814.85 233.75,815.60 C237.50,816.35 241.46,815.37 245.00,816.00 C248.54,816.63 250.42,817.58 255.00,819.40 C259.58,821.22 266.67,824.47 272.50,826.90 C278.33,829.33 284.58,832.19 290.00,834.00 C295.42,835.81 300.21,837.02 305.00,837.75 C309.79,838.48 314.17,837.46 318.75,838.40 C323.33,839.34 328.12,842.88 332.50,843.40 C336.88,843.92 341.25,841.13 345.00,841.50 C348.75,841.87 350.42,843.73 355.00,845.60 C359.58,847.48 366.67,850.52 372.50,852.75 C378.33,854.98 384.79,857.62 390.00,859.00 C395.21,860.38 399.38,861.00 403.75,861.00 C408.12,861.00 411.46,860.25 416.25,859.00 C421.04,857.75 427.92,855.15 432.50,853.50 C437.08,851.85 440.62,850.03 443.75,849.10 C446.88,848.17 448.75,847.65 451.25,847.90 C453.75,848.15 456.25,848.90 458.75,850.60 C461.25,852.30 463.75,856.02 466.25,858.10 C468.75,860.18 471.46,862.18 473.75,863.10 C476.04,864.02 477.92,863.74 480.00,863.60 C482.08,863.46 481.67,862.08 486.25,862.25 C490.83,862.42 500.83,863.79 507.50,864.60 C514.17,865.41 519.17,866.53 526.25,867.10 C533.33,867.67 543.96,867.48 550.00,868.00 C556.04,868.52 557.08,869.57 562.50,870.25 C567.92,870.93 576.04,871.39 582.50,872.10 C588.96,872.81 595.00,874.12 601.25,874.50 C607.50,874.88 614.79,874.19 620.00,874.40 C625.21,874.61 628.33,875.63 632.50,875.75 C636.67,875.87 637.92,875.24 645.00,875.10 C652.08,874.96 666.67,874.46 675.00,874.90 C683.33,875.34 688.54,876.77 695.00,877.75 C701.46,878.73 707.50,880.02 713.75,880.75 C720.00,881.48 724.58,881.35 732.50,882.10 C740.42,882.85 753.96,884.72 761.25,885.25 C768.54,885.78 771.96,885.32 776.25,885.30 C780.54,885.27 782.21,885.42 787.00,885.10 C791.79,884.78 795.75,883.98 805.00,883.40 C814.25,882.82 830.83,881.93 842.50,881.60 C854.17,881.27 866.88,881.73 875.00,881.40 C883.12,881.07 886.25,880.10 891.25,879.60 C896.25,879.10 898.54,879.25 905.00,878.40 C911.46,877.55 919.58,876.17 930.00,874.50 C940.42,872.83 953.75,870.47 967.50,868.40 C981.25,866.33 997.92,864.00 1012.50,862.10 C1027.08,860.20 1042.08,858.67 1055.00,857.00 C1067.92,855.33 1080.83,853.52 1090.00,852.10 C1099.17,850.68 1104.17,849.43 1110.00,848.50 C1115.83,847.57 1121.25,847.35 1125.00,846.50 C1128.75,845.65 1130.00,845.11 1132.50,843.40 C1135.00,841.69 1137.71,838.19 1140.00,836.25 C1142.29,834.31 1144.17,832.69 1146.25,831.75 C1148.33,830.81 1148.96,830.54 1152.50,830.60 C1156.04,830.66 1162.92,831.63 1167.50,832.10 C1172.08,832.57 1176.25,833.23 1180.00,833.40 C1183.75,833.57 1185.83,832.90 1190.00,833.10 C1194.17,833.30 1200.83,833.77 1205.00,834.60 C1209.17,835.43 1212.08,836.53 1215.00,838.10 C1217.92,839.67 1220.00,842.08 1222.50,844.00 C1225.00,845.92 1227.50,848.35 1230.00,849.60 C1232.50,850.85 1235.00,851.39 1237.50,851.50 C1240.00,851.61 1242.08,850.82 1245.00,850.25 C1247.92,849.68 1250.62,848.73 1255.00,848.10 C1259.38,847.48 1266.46,846.98 1271.25,846.50 C1276.04,846.02 1278.54,845.48 1283.75,845.25 C1288.96,845.02 1296.25,845.41 1302.50,845.10 C1308.75,844.79 1316.25,844.15 1321.25,843.40 C1326.25,842.65 1328.54,841.92 1332.50,840.60 C1336.46,839.28 1341.25,836.75 1345.00,835.50 C1348.75,834.25 1351.25,833.45 1355.00,833.10 C1358.75,832.75 1363.96,833.54 1367.50,833.40 C1371.04,833.26 1373.33,833.02 1376.25,832.25 C1379.17,831.48 1381.88,830.02 1385.00,828.75 C1388.12,827.48 1392.17,825.34 1395.00,824.60 C1397.83,823.86 1399.77,824.15 1402.00,824.30 C1404.23,824.45 1404.37,825.57 1408.40,825.50 C1412.43,825.43 1419.73,824.85 1426.20,823.90 C1432.67,822.95 1440.73,821.10 1447.20,819.80 C1453.67,818.50 1458.97,817.63 1465.00,816.10 C1471.03,814.57 1477.62,811.92 1483.40,810.60 C1489.18,809.28 1494.37,809.12 1499.70,808.20 C1505.03,807.28 1509.82,806.32 1515.40,805.10 C1520.98,803.88 1528.65,802.33 1533.20,800.90 C1537.75,799.47 1539.82,798.28 1542.70,796.50 C1545.58,794.72 1548.07,792.45 1550.50,790.20 C1552.93,787.95 1554.77,786.07 1557.30,783.00 C1559.83,779.93 1562.90,775.93 1565.70,771.80 C1568.50,767.67 1571.30,762.57 1574.10,758.20 C1576.90,753.83 1579.70,749.97 1582.50,745.60 C1585.30,741.23 1588.62,735.67 1590.90,732.00 C1593.18,728.33 1594.45,725.97 1596.20,723.60 C1597.95,721.23 1599.13,719.43 1601.40,717.80 C1603.67,716.17 1606.65,715.33 1609.80,713.80 C1612.95,712.27 1617.15,710.60 1620.30,708.60 C1623.45,706.60 1626.05,705.12 1628.70,701.80 C1631.35,698.48 1633.82,692.80 1636.20,688.70 C1638.58,684.60 1640.95,680.87 1643.00,677.20 C1645.05,673.53 1646.93,669.67 1648.50,666.70 C1650.07,663.73 1650.87,661.53 1652.40,659.40 C1653.93,657.27 1655.73,653.90 1657.70,653.90 C1659.67,653.90 1662.15,657.27 1664.20,659.40 C1666.25,661.53 1667.98,664.25 1670.00,666.70 C1672.02,669.15 1673.98,671.82 1676.30,674.10 C1678.62,676.38 1681.40,678.40 1683.90,680.40 C1686.40,682.40 1688.82,683.75 1691.30,686.10 C1693.78,688.45 1696.53,691.62 1698.80,694.50 C1701.07,697.38 1702.92,700.17 1704.90,703.40 C1706.88,706.63 1708.78,710.40 1710.70,713.90 C1712.62,717.40 1714.57,720.90 1716.40,724.40 C1718.23,727.90 1719.95,731.40 1721.70,734.90 C1723.45,738.40 1724.98,741.90 1726.90,745.40 C1728.82,748.90 1731.07,752.40 1733.20,755.90 C1735.33,759.40 1737.52,762.90 1739.70,766.40 C1741.88,769.90 1744.33,774.07 1746.30,776.90 C1748.27,779.73 1749.58,780.90 1751.50,783.40 C1753.42,785.90 1755.27,789.52 1757.80,791.90 C1760.33,794.28 1763.47,796.03 1766.70,797.70 C1769.93,799.37 1773.88,800.65 1777.20,801.90 C1780.52,803.15 1783.98,803.90 1786.60,805.20 C1789.22,806.50 1790.80,808.07 1792.90,809.70 C1795.00,811.33 1796.92,813.65 1799.20,815.00 C1801.48,816.35 1803.80,817.55 1806.60,817.80 C1809.40,818.05 1812.33,816.88 1816.00,816.50 C1819.67,816.12 1825.10,815.85 1828.60,815.50 C1832.10,815.15 1834.20,815.07 1837.00,814.40 C1839.80,813.73 1842.25,812.80 1845.40,811.50 C1848.55,810.20 1852.40,808.55 1855.90,806.60 C1859.40,804.65 1862.90,801.95 1866.40,799.80 C1869.90,797.65 1873.40,795.45 1876.90,793.70 C1880.40,791.95 1883.92,790.97 1887.40,789.30 C1890.88,787.63 1894.67,785.72 1897.80,783.70 C1900.93,781.68 1903.57,779.68 1906.20,777.20 C1908.83,774.72 1911.15,770.98 1913.60,768.80 C1916.05,766.62 1918.28,763.83 1920.90,764.10 C1923.52,764.37 1926.15,767.33 1929.30,770.40 C1932.45,773.47 1936.30,778.22 1939.80,782.50 C1943.30,786.78 1946.80,791.92 1950.30,796.10 C1953.80,800.28 1957.43,804.43 1960.80,807.60 C1964.17,810.77 1967.13,812.95 1970.50,815.10 C1973.87,817.25 1977.50,819.20 1981.00,820.50 C1984.50,821.80 1988.00,822.05 1991.50,822.90 C1995.00,823.75 1998.85,824.52 2002.00,825.60 C2005.15,826.68 2007.62,828.30 2010.40,829.40 C2013.18,830.50 2014.87,831.53 2018.70,832.20 C2022.53,832.87 2028.85,833.17 2033.40,833.40 C2037.95,833.63 2042.50,833.03 2046.00,833.60 C2049.50,834.17 2051.95,835.92 2054.40,836.80 C2056.85,837.68 2057.20,838.53 2060.70,838.90 C2064.20,839.27 2071.20,839.00 2075.40,839.00 C2079.60,839.00 2082.40,839.35 2085.90,838.90 C2089.40,838.45 2093.43,837.65 2096.40,836.30 C2099.37,834.95 2101.25,833.20 2103.70,830.80 C2106.15,828.40 2108.48,825.18 2111.10,821.90 C2113.72,818.62 2116.62,814.42 2119.40,811.10 C2122.18,807.78 2124.65,804.48 2127.80,802.00 C2130.95,799.52 2135.50,796.87 2138.30,796.20 C2141.10,795.53 2142.32,796.33 2144.60,798.00 C2146.88,799.67 2149.55,803.53 2152.00,806.20 C2154.45,808.87 2156.33,811.92 2159.30,814.00 C2162.27,816.08 2165.43,817.40 2169.80,818.70 C2174.17,820.00 2180.38,821.18 2185.50,821.80 C2190.62,822.42 2195.38,821.73 2200.50,822.40 C2205.62,823.07 2210.95,824.53 2216.20,825.80 C2221.45,827.07 2227.97,828.38 2232.00,830.00 C2236.03,831.62 2237.62,833.40 2240.40,835.50 C2243.18,837.60 2245.73,840.85 2248.70,842.60 C2251.67,844.35 2254.70,845.70 2258.20,846.00 C2261.70,846.30 2265.07,845.02 2269.70,844.40 C2274.33,843.78 2281.80,842.95 2286.00,842.30 C2290.20,841.65 2291.67,841.60 2294.90,840.50 C2298.13,839.40 2301.90,837.13 2305.40,835.70 C2308.90,834.27 2312.40,832.72 2315.90,831.90 C2319.40,831.08 2323.25,831.57 2326.40,830.80 C2329.55,830.03 2332.00,828.62 2334.80,827.30 C2337.60,825.98 2340.07,823.37 2343.20,822.90 C2346.33,822.43 2349.42,823.77 2353.60,824.50 C2357.78,825.23 2364.10,826.07 2368.30,827.30 C2372.50,828.53 2375.65,829.92 2378.80,831.90 C2381.95,833.88 2384.40,836.98 2387.20,839.20 C2390.00,841.42 2392.98,844.07 2395.60,845.20 C2398.22,846.33 2399.93,846.13 2402.90,846.00 C2405.87,845.87 2409.22,845.00 2413.40,844.40 C2417.58,843.80 2425.57,842.73 2428.00,842.40" fill="none" stroke="#e30034" stroke-width="8" stroke-linejoin="round" stroke-linecap="butt"/>
<g stroke="#000" stroke-width="4.4" fill="none"><line x1="165.2" y1="176.4" x2="165.2" y2="1053"/><line x1="2428.3" y1="176.4" x2="2428.3" y2="1053"/><line x1="163.2" y1="1008.3" x2="2430.4" y2="1008.3"/></g>
<g font-size="25.6" fill="#1d1d1b">
<text transform="translate(158.8,1034.8) scale(0.76,1)" text-anchor="middle">0</text>
<text transform="translate(292.3,1034.8) scale(0.76,1)" text-anchor="middle">10</text>
<text transform="translate(416.7,1034.8) scale(0.76,1)" text-anchor="middle">20</text>
<text transform="translate(541.0,1034.8) scale(0.76,1)" text-anchor="middle">30</text>
<text transform="translate(665.4,1034.8) scale(0.76,1)" text-anchor="middle">40</text>
<text transform="translate(789.7,1034.8) scale(0.76,1)" text-anchor="middle">50</text>
<text transform="translate(914.0,1034.8) scale(0.76,1)" text-anchor="middle">60</text>
<text transform="translate(1038.4,1034.8) scale(0.76,1)" text-anchor="middle">70</text>
<text transform="translate(1162.7,1034.8) scale(0.76,1)" text-anchor="middle">80</text>
<text transform="translate(1287.1,1034.8) scale(0.76,1)" text-anchor="middle">90</text>
<text transform="translate(1411.4,1034.8) scale(0.76,1)" text-anchor="middle">100</text>
<text transform="translate(1535.7,1034.8) scale(0.76,1)" text-anchor="middle">110</text>
<text transform="translate(1660.1,1034.8) scale(0.76,1)" text-anchor="middle">120</text>
<text transform="translate(1784.4,1034.8) scale(0.76,1)" text-anchor="middle">130</text>
<text transform="translate(1908.8,1034.8) scale(0.76,1)" text-anchor="middle">140</text>
<text transform="translate(2033.1,1034.8) scale(0.76,1)" text-anchor="middle">150</text>
<text transform="translate(2157.5,1034.8) scale(0.76,1)" text-anchor="middle">160</text>
<text transform="translate(2281.8,1034.8) scale(0.76,1)" text-anchor="middle">170</text>
<text transform="translate(2406.1,1034.8) scale(0.76,1)" text-anchor="middle">180</text>
</g>
<g><circle cx="564.1" cy="998.6" r="14.6" fill="#fff" stroke="#231f20" stroke-width="1.8"/><g stroke="#231f20" stroke-width="1.7" fill="none"><line x1="560.0" y1="984.6" x2="560.0" y2="1012.6"/><line x1="568.2" y1="984.6" x2="568.2" y2="1012.6"/><line x1="556.1" y1="989.6" x2="572.1" y2="989.6"/><line x1="556.1" y1="995.8" x2="572.1" y2="995.8"/><line x1="556.1" y1="1002.0" x2="572.1" y2="1002.0"/><line x1="556.1" y1="1008.2" x2="572.1" y2="1008.2"/></g></g>
<g><circle cx="688.6" cy="998.6" r="14.6" fill="#fff" stroke="#231f20" stroke-width="1.8"/><g stroke="#231f20" stroke-width="1.7" fill="none"><line x1="684.5" y1="984.6" x2="684.5" y2="1012.6"/><line x1="692.7" y1="984.6" x2="692.7" y2="1012.6"/><line x1="680.6" y1="989.6" x2="696.6" y2="989.6"/><line x1="680.6" y1="995.8" x2="696.6" y2="995.8"/><line x1="680.6" y1="1002.0" x2="696.6" y2="1002.0"/><line x1="680.6" y1="1008.2" x2="696.6" y2="1008.2"/></g></g>
<g><circle cx="889.3" cy="998.6" r="14.6" fill="#fff" stroke="#231f20" stroke-width="1.8"/><g stroke="#231f20" stroke-width="1.7" fill="none"><line x1="885.2" y1="984.6" x2="885.2" y2="1012.6"/><line x1="893.4" y1="984.6" x2="893.4" y2="1012.6"/><line x1="881.3" y1="989.6" x2="897.3" y2="989.6"/><line x1="881.3" y1="995.8" x2="897.3" y2="995.8"/><line x1="881.3" y1="1002.0" x2="897.3" y2="1002.0"/><line x1="881.3" y1="1008.2" x2="897.3" y2="1008.2"/></g></g>
<g><circle cx="1244.3" cy="998.6" r="14.6" fill="#fff" stroke="#231f20" stroke-width="1.8"/><g stroke="#231f20" stroke-width="1.7" fill="none"><line x1="1240.2" y1="984.6" x2="1240.2" y2="1012.6"/><line x1="1248.4" y1="984.6" x2="1248.4" y2="1012.6"/><line x1="1236.3" y1="989.6" x2="1252.3" y2="989.6"/><line x1="1236.3" y1="995.8" x2="1252.3" y2="995.8"/><line x1="1236.3" y1="1002.0" x2="1252.3" y2="1002.0"/><line x1="1236.3" y1="1008.2" x2="1252.3" y2="1008.2"/></g></g>
<g><circle cx="1926.6" cy="996.9" r="14.6" fill="#fff" stroke="#231f20" stroke-width="1.8"/>
<path d="M1917.2,1005.3 v-10.2 a9.4,9.4 0 0 1 18.8,0 v10.2 z" fill="#55555c"/>
<path d="M1921.0,1005.3 v-9.2 a5.6,5.6 0 0 1 11.2,0 v9.2 z" fill="#fff"/>
<path d="M1922.2,1005.3 v-8.6 a4.4,4.4 0 0 1 8.8,0 v8.6 z" fill="#1d1d1f"/></g>
<text transform="translate(224.8,738.2) rotate(-90)" font-size="38.8" fill="#4b4b4d" textLength="125.8" lengthAdjust="spacingAndGlyphs">408 - Biella</text>
<text transform="translate(323.9,761.7) rotate(-90)" font-size="38.8" fill="#4b4b4d" textLength="155.8" lengthAdjust="spacingAndGlyphs">332 - Candelo</text>
<text transform="translate(360.3,767.9) rotate(-90)" font-size="38.8" fill="#4b4b4d" textLength="250.7" lengthAdjust="spacingAndGlyphs">312 - Vigliano Biellese</text>
<text transform="translate(431.2,786.8) rotate(-90)" font-size="38.8" fill="#4b4b4d" textLength="156.3" lengthAdjust="spacingAndGlyphs">251 - Cossato</text>
<text transform="translate(498.4,788.6) rotate(-90)" font-size="38.8" fill="#4b4b4d" textLength="335.6" lengthAdjust="spacingAndGlyphs">245 - San Giacomo del Bosco</text>
<text transform="translate(575.4,796.1) rotate(-90)" font-size="38.8" fill="#4b4b4d" textLength="189.5" lengthAdjust="spacingAndGlyphs">221 - Rovasenda</text>
<text transform="translate(658.8,800.7) rotate(-90)" font-size="38.8" fill="#4b4b4d" textLength="198.4" lengthAdjust="spacingAndGlyphs">206 - Ghislarengo</text>
<text transform="translate(694.8,801.9) rotate(-90)" font-size="38.8" fill="#4b4b4d" textLength="262.0" lengthAdjust="spacingAndGlyphs">202 - Carpignano Sesia</text>
<text transform="translate(800.5,811.8) rotate(-90)" font-size="38.8" fill="#4b4b4d" textLength="175.2" lengthAdjust="spacingAndGlyphs">170 - Vicolungo</text>
<text transform="translate(904.9,805.7) rotate(-90)" font-size="38.8" fill="#4b4b4d" textLength="115.5" lengthAdjust="spacingAndGlyphs">190 - Proh</text>
<text transform="translate(1026.8,790.2) rotate(-90)" font-size="38.8" fill="#4b4b4d" textLength="275.2" lengthAdjust="spacingAndGlyphs">240 - Cavaglio d&#39;Agogna</text>
<text transform="translate(1123.8,775.7) rotate(-90)" font-size="38.8" fill="#4b4b4d" textLength="165.6" lengthAdjust="spacingAndGlyphs">287 - Cureggio</text>
<text transform="translate(1245.6,779.1) rotate(-90)" font-size="38.8" fill="#4b4b4d" textLength="269.2" lengthAdjust="spacingAndGlyphs">276 - Romagnano Sesia</text>
<text transform="translate(1335.2,770.1) rotate(-90)" font-size="38.8" fill="#4b4b4d" textLength="189.7" lengthAdjust="spacingAndGlyphs">305 - Ins. sp.299</text>
<text transform="translate(1388.6,759.9) rotate(-90)" font-size="38.8" fill="#4b4b4d" textLength="248.0" lengthAdjust="spacingAndGlyphs">338 - Serravalle Sesia</text>
<text transform="translate(1496.8,738.2) rotate(-90)" font-size="38.8" fill="#4b4b4d" textLength="159.3" lengthAdjust="spacingAndGlyphs">408 - Quarona</text>
<text transform="translate(1564.0,720.6) rotate(-90)" font-size="38.8" fill="#4b4b4d" textLength="321.4" lengthAdjust="spacingAndGlyphs">465 - Varallo (bv. per Colma)</text>
<text transform="translate(1671.0,573.1) rotate(-90)" font-size="38.8" font-weight="bold" fill="#1d1d1b" stroke="#1d1d1b" stroke-width="0.6" textLength="340.1" lengthAdjust="spacingAndGlyphs">942 - PASSO DELLA COLMA</text>
<text transform="translate(1771.6,717.8) rotate(-90)" font-size="38.8" fill="#4b4b4d" textLength="243.4" lengthAdjust="spacingAndGlyphs">474 - Bv. per Gozzano</text>
<text transform="translate(1842.5,745.7) rotate(-90)" font-size="38.8" fill="#4b4b4d" textLength="305.0" lengthAdjust="spacingAndGlyphs">384 - San Maurizio Opaglio</text>
<text transform="translate(1934.6,690.6) rotate(-90)" font-size="38.8" font-weight="bold" fill="#1d1d1b" stroke="#1d1d1b" stroke-width="0.6" textLength="222.1" lengthAdjust="spacingAndGlyphs">562 - CREMOSINA</text>
<text transform="translate(2030.2,765.5) rotate(-90)" font-size="38.8" fill="#4b4b4d" textLength="197.0" lengthAdjust="spacingAndGlyphs">339 - Borgosesia</text>
<text transform="translate(2098.6,767.6) rotate(-90)" font-size="38.8" fill="#4b4b4d" textLength="178.6" lengthAdjust="spacingAndGlyphs">313 - Grignasco</text>
<text transform="translate(2142.2,724.0) rotate(-90)" font-size="38.8" font-weight="bold" fill="#1d1d1b" stroke="#1d1d1b" stroke-width="0.6" textLength="257.6" lengthAdjust="spacingAndGlyphs">454 - TRAVERSAGNA</text>
<text transform="translate(2215.5,749.1) rotate(-90)" font-size="38.8" fill="#4b4b4d" textLength="173.9" lengthAdjust="spacingAndGlyphs">373 - Maggiora</text>
<text transform="translate(2300.1,769.5) rotate(-90)" font-size="38.8" fill="#4b4b4d" textLength="257.3" lengthAdjust="spacingAndGlyphs">307 - BORGOMANERO</text>
<text transform="translate(2356.0,749.1) rotate(-90)" font-size="38.8" fill="#4b4b4d" textLength="173.9" lengthAdjust="spacingAndGlyphs">373 - Maggiora</text>
<text transform="translate(178.4,1065.2) rotate(-90) scale(0.705,1)" font-size="38" font-weight="bold" fill="#1d1d1b" stroke="#1d1d1b" stroke-width="0.7" text-anchor="end">0.0</text>
<text transform="translate(224.4,1065.2) rotate(-90) scale(0.675,1)" font-size="38" fill="#4b4b4d" text-anchor="end">3.7</text>
<text transform="translate(323.5,1065.2) rotate(-90) scale(0.675,1)" font-size="38" fill="#4b4b4d" text-anchor="end">12.6</text>
<text transform="translate(359.9,1065.2) rotate(-90) scale(0.675,1)" font-size="38" fill="#4b4b4d" text-anchor="end">14.6</text>
<text transform="translate(430.8,1065.2) rotate(-90) scale(0.675,1)" font-size="38" fill="#4b4b4d" text-anchor="end">20.3</text>
<text transform="translate(498.0,1065.2) rotate(-90) scale(0.675,1)" font-size="38" fill="#4b4b4d" text-anchor="end">25.7</text>
<text transform="translate(575.0,1065.2) rotate(-90) scale(0.675,1)" font-size="38" fill="#4b4b4d" text-anchor="end">31.9</text>
<text transform="translate(658.4,1065.2) rotate(-90) scale(0.675,1)" font-size="38" fill="#4b4b4d" text-anchor="end">38.6</text>
<text transform="translate(694.4,1065.2) rotate(-90) scale(0.675,1)" font-size="38" fill="#4b4b4d" text-anchor="end">41.5</text>
<text transform="translate(800.1,1065.2) rotate(-90) scale(0.675,1)" font-size="38" fill="#4b4b4d" text-anchor="end">50.0</text>
<text transform="translate(904.5,1065.2) rotate(-90) scale(0.675,1)" font-size="38" fill="#4b4b4d" text-anchor="end">58.4</text>
<text transform="translate(1026.4,1065.2) rotate(-90) scale(0.675,1)" font-size="38" fill="#4b4b4d" text-anchor="end">68.2</text>
<text transform="translate(1123.4,1065.2) rotate(-90) scale(0.675,1)" font-size="38" fill="#4b4b4d" text-anchor="end">76.0</text>
<text transform="translate(1245.2,1065.2) rotate(-90) scale(0.675,1)" font-size="38" fill="#4b4b4d" text-anchor="end">85.8</text>
<text transform="translate(1334.8,1065.2) rotate(-90) scale(0.675,1)" font-size="38" fill="#4b4b4d" text-anchor="end">93.0</text>
<text transform="translate(1388.2,1065.2) rotate(-90) scale(0.675,1)" font-size="38" fill="#4b4b4d" text-anchor="end">97.3</text>
<text transform="translate(1496.4,1065.2) rotate(-90) scale(0.675,1)" font-size="38" fill="#4b4b4d" text-anchor="end">106.0</text>
<text transform="translate(1563.6,1065.2) rotate(-90) scale(0.675,1)" font-size="38" fill="#4b4b4d" text-anchor="end">111.4</text>
<text transform="translate(1670.5,1065.2) rotate(-90) scale(0.705,1)" font-size="38" font-weight="bold" fill="#1d1d1b" stroke="#1d1d1b" stroke-width="0.7" text-anchor="end">120.0</text>
<text transform="translate(1771.2,1065.2) rotate(-90) scale(0.675,1)" font-size="38" fill="#4b4b4d" text-anchor="end">128.1</text>
<text transform="translate(1842.1,1065.2) rotate(-90) scale(0.675,1)" font-size="38" fill="#4b4b4d" text-anchor="end">133.8</text>
<text transform="translate(1934.1,1065.2) rotate(-90) scale(0.705,1)" font-size="38" font-weight="bold" fill="#1d1d1b" stroke="#1d1d1b" stroke-width="0.7" text-anchor="end">141.2</text>
<text transform="translate(2029.8,1065.2) rotate(-90) scale(0.675,1)" font-size="38" fill="#4b4b4d" text-anchor="end">148.9</text>
<text transform="translate(2098.2,1065.2) rotate(-90) scale(0.675,1)" font-size="38" fill="#4b4b4d" text-anchor="end">154.4</text>
<text transform="translate(2141.7,1065.2) rotate(-90) scale(0.705,1)" font-size="38" font-weight="bold" fill="#1d1d1b" stroke="#1d1d1b" stroke-width="0.7" text-anchor="end">157.9</text>
<text transform="translate(2215.1,1065.2) rotate(-90) scale(0.675,1)" font-size="38" fill="#4b4b4d" text-anchor="end">163.8</text>
<text transform="translate(2299.7,1065.2) rotate(-90) scale(0.675,1)" font-size="38" fill="#4b4b4d" text-anchor="end">170.6</text>
<text transform="translate(2355.6,1065.2) rotate(-90) scale(0.675,1)" font-size="38" fill="#4b4b4d" text-anchor="end">175.1</text>
<text transform="translate(2441.4,1065.2) rotate(-90) scale(0.705,1)" font-size="38" font-weight="bold" fill="#1d1d1b" stroke="#1d1d1b" stroke-width="0.7" text-anchor="end">182.0</text>
<g stroke="#b1b1b5" stroke-width="4" fill="none"><path d="M163,1205 H2430.6"/>
<line x1="165.0" y1="1176.3" x2="165.0" y2="1207"/>
<line x1="519.0" y1="1176.3" x2="519.0" y2="1207"/>
<line x1="662.0" y1="1176.3" x2="662.0" y2="1207"/>
<line x1="1270.0" y1="1176.3" x2="1270.0" y2="1207"/>
<line x1="1657.0" y1="1176.3" x2="1657.0" y2="1207"/>
<line x1="1798.3" y1="1176.3" x2="1798.3" y2="1207"/>
<line x1="1901.3" y1="1176.3" x2="1901.3" y2="1207"/>
<line x1="2051.8" y1="1176.3" x2="2051.8" y2="1207"/>
<line x1="2428.6" y1="1176.3" x2="2428.6" y2="1207"/>
</g>
<g font-size="37" fill="#b4b4b7" text-anchor="middle">
<text transform="translate(337.5,1193.8) scale(0.6,1)">BI</text>
<text transform="translate(594.8,1193.8) scale(0.6,1)">VC</text>
<text transform="translate(977.9,1193.8) scale(0.6,1)">NO</text>
<text transform="translate(1467.5,1193.8) scale(0.6,1)">VC</text>
<text transform="translate(1709.0,1193.8) scale(0.6,1)">VB</text>
<text transform="translate(1852.0,1193.8) scale(0.6,1)">NO</text>
<text transform="translate(1980.0,1193.8) scale(0.6,1)">VC</text>
<text transform="translate(2249.8,1193.8) scale(0.6,1)">NO</text>
</g>
<text transform="translate(2466.4,1000.5) rotate(-90) scale(1.27,1)" font-size="29.5" fill="#1d1d1b" stroke="#1d1d1b" stroke-width="1.2" letter-spacing="1">SDS</text>
<g>
<path d="M75.4,437.3 a8,8 0 0 1 8,-8 h59.4 a8,8 0 0 1 8,8 V844.2 a37.7,37.7 0 0 1 -75.4,0 Z" fill="#0b9a3a"/>
<path d="M83.8,439.6 a2,2 0 0 1 2,-2 h53.8 a2,2 0 0 1 2,2 V844.2 a28.9,28.9 0 0 1 -57.6,0 Z" fill="url(#gpl)"/>
<circle cx="113.0" cy="844.0" r="29.7" fill="url(#ggreen)" stroke="#1f1a1f" stroke-width="4"/>
<g transform="translate(113.0,844.0)" fill="none" stroke="#fff">
<circle cx="-15.4" cy="9.5" r="7.7" stroke-width="3.3"/><circle cx="14.4" cy="9.4" r="7.7" stroke-width="3.3"/>
<path d="M-13.31,-10.63 L-12.75,-13.99 L-9.67,-15.83 L-1.84,-16.95 L3.76,-18.07 L5.43,-19.19 L8.23,-19.19 L11.03,-17.62 L11.59,-14.83 L9.35,-12.31 L7.39,-11.75 L9.35,-8.95 L12.99,-6.43 L15.22,-2.80 L12.99,-1.12 L9.63,-3.64 L6.27,-6.43 L3.76,-9.34 L0.12,-8.67 L-4.08,-6.99 L2.08,-4.20 L4.03,-0.84 L2.08,2.80 L0.68,7.55 L1.80,11.75 L-1.84,13.15 L-4.36,10.63 L-2.96,4.20 L-6.87,-0.28 L-10.51,-3.64 L-11.91,-6.99 Z" fill="#fff" stroke="#fff" stroke-width="1.2" stroke-linejoin="round"/>
<path d="M-15.43,9.51 L-7.43,2.52 L8.23,-0.84 L14.38,9.51" stroke-width="2" stroke-linejoin="round"/>
<path d="M-7.43,2.52 L-2.40,10.91 L8.23,-0.84" stroke-width="2.2"/>
<circle cx="-5.20" cy="10.35" r="3.2" fill="#fff" stroke="none"/>
</g>
<text transform="translate(127.2,802.6) rotate(-90)" font-size="46.6" font-weight="bold" fill="#1d1d1f" stroke="#1d1d1f" stroke-width="1.3" stroke-linejoin="round" textLength="345.5" lengthAdjust="spacingAndGlyphs">340 - VALDENGO</text>
</g>
<g>
<path d="M2448.6,332.5 a8,8 0 0 1 8,-8 h58.8 a8,8 0 0 1 8,8 V837.8 a37.4,37.4 0 0 1 -74.8,0 Z" fill="#e90510"/>
<path d="M2457.5,335.3 a2,2 0 0 1 2,-2 h53.4 a2,2 0 0 1 2,2 V837.8 a28.7,28.7 0 0 1 -57.4,0 Z" fill="url(#gpr)"/>
<circle cx="2486.0" cy="837.9" r="28.2" fill="url(#gred)" stroke="#1d1d22" stroke-width="3.8"/>
<path d="M2460.0,834.9 a26.2,26.2 0 0 1 52,0 q-6,8 -16,4 q-10,-4 -18,2 q-10,6 -18,-6z" fill="#f0401a"/>
<g transform="translate(2486.0,837.9)" fill="none" stroke="#fff">
<circle cx="-14.8" cy="10.8" r="7.5" stroke-width="3.3"/><circle cx="13.3" cy="10.8" r="7.5" stroke-width="3.3"/>
<path d="M-5.31,-28.67 L-2.80,-29.06 L-1.40,-26.71 L1.40,-28.39 L3.92,-26.71 L3.36,-22.24 L1.68,-18.32 L-1.40,-14.40 L-2.97,-11.61 L-2.41,-7.69 L0.28,-4.33 L4.20,-2.10 L7.55,-4.33 L10.63,-5.56 L13.82,-3.21 L15.50,0.14 L12.70,1.37 L9.34,-0.87 L5.99,1.37 L2.63,2.49 L1.40,6.86 L2.52,12.45 L-0.84,14.97 L-3.64,12.45 L-2.52,6.86 L-4.20,0.70 L-6.43,1.37 L-8.67,-0.98 L-10.91,-5.45 L-12.31,-9.93 L-10.91,-14.40 L-9.79,-18.32 L-10.91,-20.56 L-8.67,-22.80 L-6.43,-23.91 L-5.87,-26.71 Z" fill="#fff" stroke="#fff" stroke-width="1.2" stroke-linejoin="round"/>
<path d="M-14.83,10.77 L-6.43,3.50 L9.23,-0.98 L13.26,10.77" stroke-width="2" stroke-linejoin="round"/>
<path d="M-6.43,3.50 L-1.40,12.45 L9.23,-0.98" stroke-width="2.2"/>
</g>
<text transform="translate(2500.6,790.2) rotate(-90)" font-size="46.6" font-weight="bold" fill="#1d1d1f" stroke="#1d1d1f" stroke-width="1.3" stroke-linejoin="round" textLength="443.5" lengthAdjust="spacingAndGlyphs">307 - BORGOMANERO</text>
</g>
</svg></body></html>
